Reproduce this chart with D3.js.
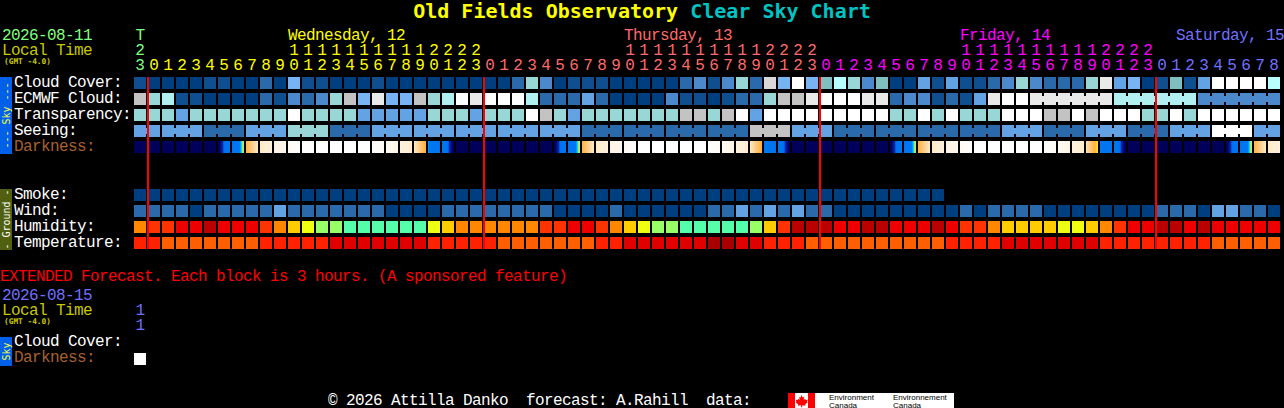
<!DOCTYPE html>
<html>
<head>
<meta charset="utf-8">
<script src="https://cdnjs.cloudflare.com/ajax/libs/d3/7.8.5/d3.min.js"></script>
<style>
html,body{margin:0;padding:0;background:#000;overflow:hidden}
svg{display:block}
text{font-family:"Liberation Mono",monospace;white-space:pre}
text.t{letter-spacing:-0.6px}
text.h{font-family:"DejaVu Sans Mono",monospace}
</style>
</head>
<body>
<svg id="c" width="1284" height="408"></svg>
<script>
// ---- Data (levels index the shared palettes below) ----
const hourLabels = [23,0,1,2,3,4,5,6,7,8,9,10,11,12,13,14,15,16,17,18,19,20,21,22,23,0,1,2,3,4,5,6,7,8,9,10,11,12,13,14,15,16,17,18,19,20,21,22,23,0,1,2,3,4,5,6,7,8,9,10,11,12,13,14,15,16,17,18,19,20,21,22,23,0,1,2,3,4,5,6,7,8];
const dayIndex   = [0,1,1,1,1,1,1,1,1,1,1,1,1,1,1,1,1,1,1,1,1,1,1,1,1,2,2,2,2,2,2,2,2,2,2,2,2,2,2,2,2,2,2,2,2,2,2,2,2,3,3,3,3,3,3,3,3,3,3,3,3,3,3,3,3,3,3,3,3,3,3,3,3,4,4,4,4,4,4,4,4,4];
const dayColors  = ["#80ff80","#ffff00","#ff6a6a","#ff00ff","#7070ff"];
const dayTitles  = [{col:11,t:"Wednesday, 12"},{col:35,t:"Thursday, 13"},{col:59,t:"Friday, 14"}];
const lastDayTitle = "Saturday, 15";
const firstColLetter = "T";
const midnightCols = [1,25,49,73];

const cloudCover = [1,0,0,0,0,1,1,0,0,2,0,5,1,1,0,0,0,1,0,0,0,0,0,0,0,0,0,2,7,3,0,1,1,1,0,0,0,0,0,2,3,1,3,7,2,12,5,11,5,6,13,7,3,6,0,0,4,1,4,1,1,2,3,7,3,2,2,2,7,10,4,5,0,1,6,1,4,11,11,11,11,13];
const ecmwfCloud = [9,7,8,1,1,0,0,0,0,2,1,3,2,3,7,9,5,10,5,5,9,7,8,11,10,11,11,11,8,2,2,2,4,2,0,0,0,0,3,1,1,0,1,2,2,7,9,9,10,11,11,11,10,10,2,3,3,1,2,1,4,10,11,11,10,10,10,10,10,10,8,8,8,8,8,8,3,3,3,3,3,3];
const transparency = [7,7,7,4,7,7,7,7,7,7,7,11,7,7,7,7,4,4,4,4,4,7,7,7,4,7,7,7,11,9,7,4,7,7,7,7,7,7,7,9,9,7,9,11,4,11,11,11,11,11,11,11,11,11,7,7,11,7,11,7,7,7,11,11,11,9,9,11,9,11,11,11,7,7,11,7,11,11,11,11,11,11];
const seeing = [4,4,4,4,4,2,2,2,4,4,4,7,7,7,2,2,2,4,4,4,4,4,4,4,4,4,4,4,4,4,4,4,2,2,2,2,2,2,2,2,2,2,2,2,9,9,9,4,4,4,2,2,2,2,2,2,2,2,2,2,2,2,4,4,4,2,2,2,4,4,4,2,2,2,4,4,4,11,11,11,4,4];
const seeingSpans = [[0,1],[2,4],[5,7],[8,10],[11,13],[14,16],[17,19],[20,22],[23,25],[26,28],[29,31],[32,34],[35,37],[38,40],[41,43],[44,46],[47,49],[50,52],[53,55],[56,58],[59,61],[62,64],[65,67],[68,70],[71,73],[74,76],[77,79],[80,81]];
const ecmwfSpans  = [[64,69],[70,75],[76,81]];
const smoke = [0,0,0,0,0,0,0,0,0,0,0,0,0,0,0,0,0,0,0,0,0,0,0,0,0,0,0,0,0,0,0,0,0,0,0,0,0,0,0,0,0,0,0,0,0,0,0,0,0,0,0,0,0,0,0,0,0,0];
const wind = [2,2,2,2,0,2,2,2,2,2,4,2,2,2,2,2,2,2,0,0,0,0,2,2,2,2,2,2,2,2,0,0,0,0,2,0,0,0,0,0,0,2,2,4,2,4,2,4,2,2,0,0,0,0,0,0,0,0,0,2,0,2,2,2,2,0,0,0,0,0,0,0,0,2,2,2,0,4,4,2,2,0];
const humidity = [3,2,2,1,1,0,1,1,1,2,3,4,5,6,6,7,7,7,7,7,7,5,4,3,3,3,3,3,3,2,2,1,1,2,3,4,5,6,6,7,7,7,7,7,6,4,2,0,0,0,1,1,0,0,1,1,1,0,1,2,2,3,4,4,4,4,5,5,4,3,2,1,1,0,0,1,0,1,1,1,1,1];
const temperature = [1,1,2,2,2,2,2,2,2,1,1,1,1,1,0,0,0,0,0,0,0,1,1,1,1,1,2,2,2,2,2,2,2,1,1,0,0,0,0,0,0,3,3,0,0,1,1,1,2,2,2,2,2,2,2,2,2,2,1,1,1,1,0,0,0,0,0,0,0,1,1,1,1,1,1,1,1,2,2,2,2,2];
// limiting magnitude at the left and right edge of each darkness block
const darkLeft  = [5.2,5.2,5.2,5.2,5.2,5.2,5,2.5,-1.3,-2.9,-3.3,-3.7,-4,-4,-4,-4,-4,-3.9,-3.7,-3.3,-2.9,0,1.6,5.2,5.2,5.2,5.2,5.2,5.2,5.2,5,2.5,-1.3,-2.9,-3.3,-3.7,-4,-4,-4,-4,-4,-3.9,-3.7,-3.3,-2.9,0.4,1.6,5.2,5.2,5.2,5.2,5.2,5.2,5.2,5,2.5,-1.3,-2.9,-3.3,-3.7,-4,-4,-4,-4,-4,-3.9,-3.7,-3.3,-2.7,0.4,1.6,5.2,5.2,5.2,5.2,5.2,5.2,5.2,5,2.5,-1.3,-2.9];
const darkRight = [5.2,5.2,5.2,5.2,5.2,5.2,1.6,-1,-2.9,-3.2,-3.6,-3.9,-4,-4,-4,-4,-4,-3.8,-3.4,-3,-1.1,2.6,5,5.2,5.2,5.2,5.2,5.2,5.2,5.2,1.6,-1,-2.9,-3.2,-3.6,-3.9,-4,-4,-4,-4,-4,-3.8,-3.4,-3,-1.1,2.6,5,5.2,5.2,5.2,5.2,5.2,5.2,5.2,1.6,-1,-2.9,-3.2,-3.6,-3.9,-4,-4,-4,-4,-4,-3.8,-3.4,-3,-0.7,2.6,5,5.2,5.2,5.2,5.2,5.2,5.2,5.2,1.6,-1,-2.9,-3.2];
const rowLabels = ["Cloud Cover:","ECMWF Cloud:","Transparency:","Seeing:","Darkness:","Smoke:","Wind:","Humidity:","Temperature:"];
const extRowLabels = ["Cloud Cover:","Darkness:"];
const extDarkness = [-4];

// ---- Palettes ----
const skyPalette = ["#003f7f","#0f4f8f","#2b6aaa","#4b88cc","#63a3e3","#78b4f4","#7fbfbf","#99d6d6","#b0f0f0","#c3c3c3","#e9e9e9","#ffffff","#d8d8d8","#b8ffff"];
const humidPalette = ["#bb0000","#ee0000","#ff3300","#ff8800","#ffcc00","#eeff11","#99ff66","#55ffaa"];
const tempPalette = ["#e00000","#ff2200","#ff5f00","#a80000"];
const darkScale = d3.scaleLinear()
  .domain([-4,-3.6,-3,-2.2,-1.2,-0.8,-0.4,0,0.3,3.3,3.8,4.5,5.2])
  .range(["#ffffff","#fff8f0","#ffecd0","#ffd090","#ffb040","#ffe020","#20f0ff","#00a0f8","#0078f0","#0070f0","#0020a0","#000070","#00005a"]);

// ---- Scales ----
const cols = d3.range(hourLabels.length);
const x = d3.scaleBand().domain(cols).range([134, 134 + 14*cols.length - 2]).paddingInner(2/14).paddingOuter(0);
const rowNames = ["cloud","ecmwf","transp","seeing","dark","gapA","gapB","smoke","wind","humid","temp"];
const y = d3.scaleBand().domain(rowNames).range([77, 77 + 16*rowNames.length - 4]).paddingInner(4/16).paddingOuter(0);
const bw = x.bandwidth(), bh = y.bandwidth();
const cx = i => x(i) + bw/2;

const svg = d3.select("#c");
svg.append("rect").attr("width",1284).attr("height",408).attr("fill","#000");

// ---- Title ----
const title = svg.append("text").attr("class","h").attr("x",642).attr("y",18).attr("text-anchor","middle")
  .attr("font-size",20).attr("font-weight","bold");
title.append("tspan").attr("fill","#ffff00").text("Old Fields Observatory ");
title.append("tspan").attr("fill","#00c4c4").text("Clear Sky Chart");

function label(g,xp,yp,t,fill){
  return g.append("text").attr("class","t").attr("x",xp).attr("y",yp).attr("fill",fill).attr("font-size",16).text(t);
}
function tiny(xp,yp){
  svg.append("text").attr("class","h").attr("x",xp).attr("y",yp).attr("fill","#c8c800").attr("font-size",7.8).attr("font-weight","bold").text("(GMT -4.0)");
}
// ---- Header ----
label(svg,2,40,"2026-08-11",dayColors[0]);
label(svg,2,55,"Local Time","#c8c800");
tiny(4,64);
label(svg,cx(0),40,firstColLetter,dayColors[0]).attr("text-anchor","middle");
dayTitles.forEach(d=>label(svg,x(d.col),40,d.t,dayColors[dayIndex[d.col]]));
label(svg,1176,40,lastDayTitle,dayColors[4]);
function hourAxis(yPos, vals, fmt){
  const g = svg.append("g").attr("transform",`translate(0,${yPos})`)
    .call(d3.axisTop(x).tickValues(vals).tickSize(0).tickPadding(0).tickFormat(fmt));
  g.select(".domain").remove();
  g.selectAll("text").attr("font-size",16).attr("font-family","Liberation Mono")
    .attr("fill",i=>dayColors[dayIndex[i]]).attr("y",0).attr("dy",0);
}
hourAxis(70, cols, i=>String(hourLabels[i]%10));
hourAxis(55, cols.filter(i=>hourLabels[i]>=10), i=>String(Math.floor(hourLabels[i]/10)));

// ---- Side tabs ----
function sideTab(y0,h,fill,txt,tcol){
  svg.append("rect").attr("x",0).attr("y",y0).attr("width",12).attr("height",h).attr("fill",fill);
  svg.append("text").attr("class","h").attr("transform",`translate(9.5,${y0+h/2}) rotate(-90)`)
    .attr("text-anchor","middle").attr("font-size",10).attr("fill",tcol).text(txt);
}
sideTab(77,77,"#0060e8","--- Sky ---","#ffff40");
sideTab(189,61,"#506010","- Ground -","#ffffff");
sideTab(337,29,"#0060e8","Sky","#ffff40");

// ---- Row labels ----
const labelRows = ["cloud","ecmwf","transp","seeing","dark","smoke","wind","humid","temp"];
labelRows.forEach((r,k)=>{
  label(svg,14,y(r)+10,rowLabels[k], r==="dark" ? "#a8602c" : "#ffffff");
});

// ---- Blocks ----
const layer = svg.append("g").attr("shape-rendering","crispEdges");
function blocks(rowName, values, palette, spans){
  const g = layer.append("g");
  g.selectAll("rect.b").data(values).join("rect").attr("class","b")
    .attr("x",(d,i)=>x(i)).attr("y",y(rowName)).attr("width",bw).attr("height",bh)
    .attr("fill",d=>palette[d]);
  (spans||[]).forEach(([a,b])=>{
    g.selectAll(null).data(d3.range(a,b)).join("rect")
      .attr("x",i=>x(i)+bw).attr("y",y(rowName)+3).attr("width",x.step()-bw).attr("height",bh-6)
      .attr("fill",i=>palette[values[i]]);
  });
}
blocks("cloud",cloudCover,skyPalette);
blocks("ecmwf",ecmwfCloud,skyPalette,ecmwfSpans);
blocks("transp",transparency,skyPalette);
blocks("seeing",seeing,skyPalette,seeingSpans);
blocks("smoke",smoke,skyPalette);
blocks("wind",wind,skyPalette);
blocks("humid",humidity,humidPalette);
blocks("temp",temperature,tempPalette);

// Darkness: each block shaded across its width from left to right magnitude
const strip = d3.range(bw);
cols.forEach(i=>{
  const mag = d3.interpolateNumber(darkLeft[i],darkRight[i]);
  layer.append("g").selectAll("rect").data(strip).join("rect")
    .attr("x",p=>x(i)+p).attr("y",y("dark")).attr("width",1).attr("height",bh)
    .attr("fill",p=>darkScale(mag((p+0.5)/bw)));
});

// ---- Midnight lines ----
layer.selectAll("rect.mid").data(midnightCols).join("rect").attr("class","mid")
  .attr("x",i=>x(i)-1).attr("y",y("cloud")).attr("width",2).attr("height",y("temp")+bh-y("cloud"))
  .attr("fill","#ff0000");

// ---- Extended forecast ----
label(svg,0,281,"EXTENDED Forecast. Each block is 3 hours. (A sponsored feature)","#ff0000");
label(svg,2,300,"2026-08-15",dayColors[4]);
label(svg,2,315,"Local Time","#c8c800");
tiny(4,324);
label(svg,cx(0),315,"1",dayColors[4]).attr("text-anchor","middle");
label(svg,cx(0),330,"1",dayColors[4]).attr("text-anchor","middle");
label(svg,14,346,extRowLabels[0],"#ffffff");
label(svg,14,362,extRowLabels[1],"#a8602c");
layer.selectAll("rect.ext").data(extDarkness).join("rect").attr("class","ext")
  .attr("x",x(0)).attr("y",353).attr("width",bw).attr("height",bh).attr("fill",d=>darkScale(d));

// ---- Footer ----
label(svg,328,405,"© 2026 Attilla Danko  forecast: A.Rahill  data:","#ffffff");
const logo = svg.append("g");
logo.append("rect").attr("x",788).attr("y",393).attr("width",166).attr("height",15).attr("fill","#fff");
logo.append("rect").attr("x",788).attr("y",393).attr("width",7).attr("height",15).attr("fill","#f00");
logo.append("rect").attr("x",808).attr("y",393).attr("width",7).attr("height",15).attr("fill","#f00");
logo.append("path").attr("fill","#f00").attr("d","M801.5 395l1.3 2.4 1.4-.6-.5 3 1.6-1 .4 1.2 2-.3-.7 2 .8.6-2.7 2.2.4 1.2-3.2-.4v2h-1.2v-2l-3.2.4.4-1.2-2.7-2.2.8-.6-.7-2 2 .3.4-1.2 1.6 1-.5-3 1.4.6z");
[[829,"Environment"],[893,"Environnement"]].forEach(([xp,t])=>{
  logo.append("text").attr("x",xp).attr("y",400).attr("font-size",8).attr("fill","#000").style("font-family","Liberation Sans").text(t);
});
[829,893].forEach(xp=>{
  logo.append("text").attr("x",xp).attr("y",407.5).attr("font-size",8).attr("fill","#000").style("font-family","Liberation Sans").text("Canada");
});
</script>
</body>
</html>
